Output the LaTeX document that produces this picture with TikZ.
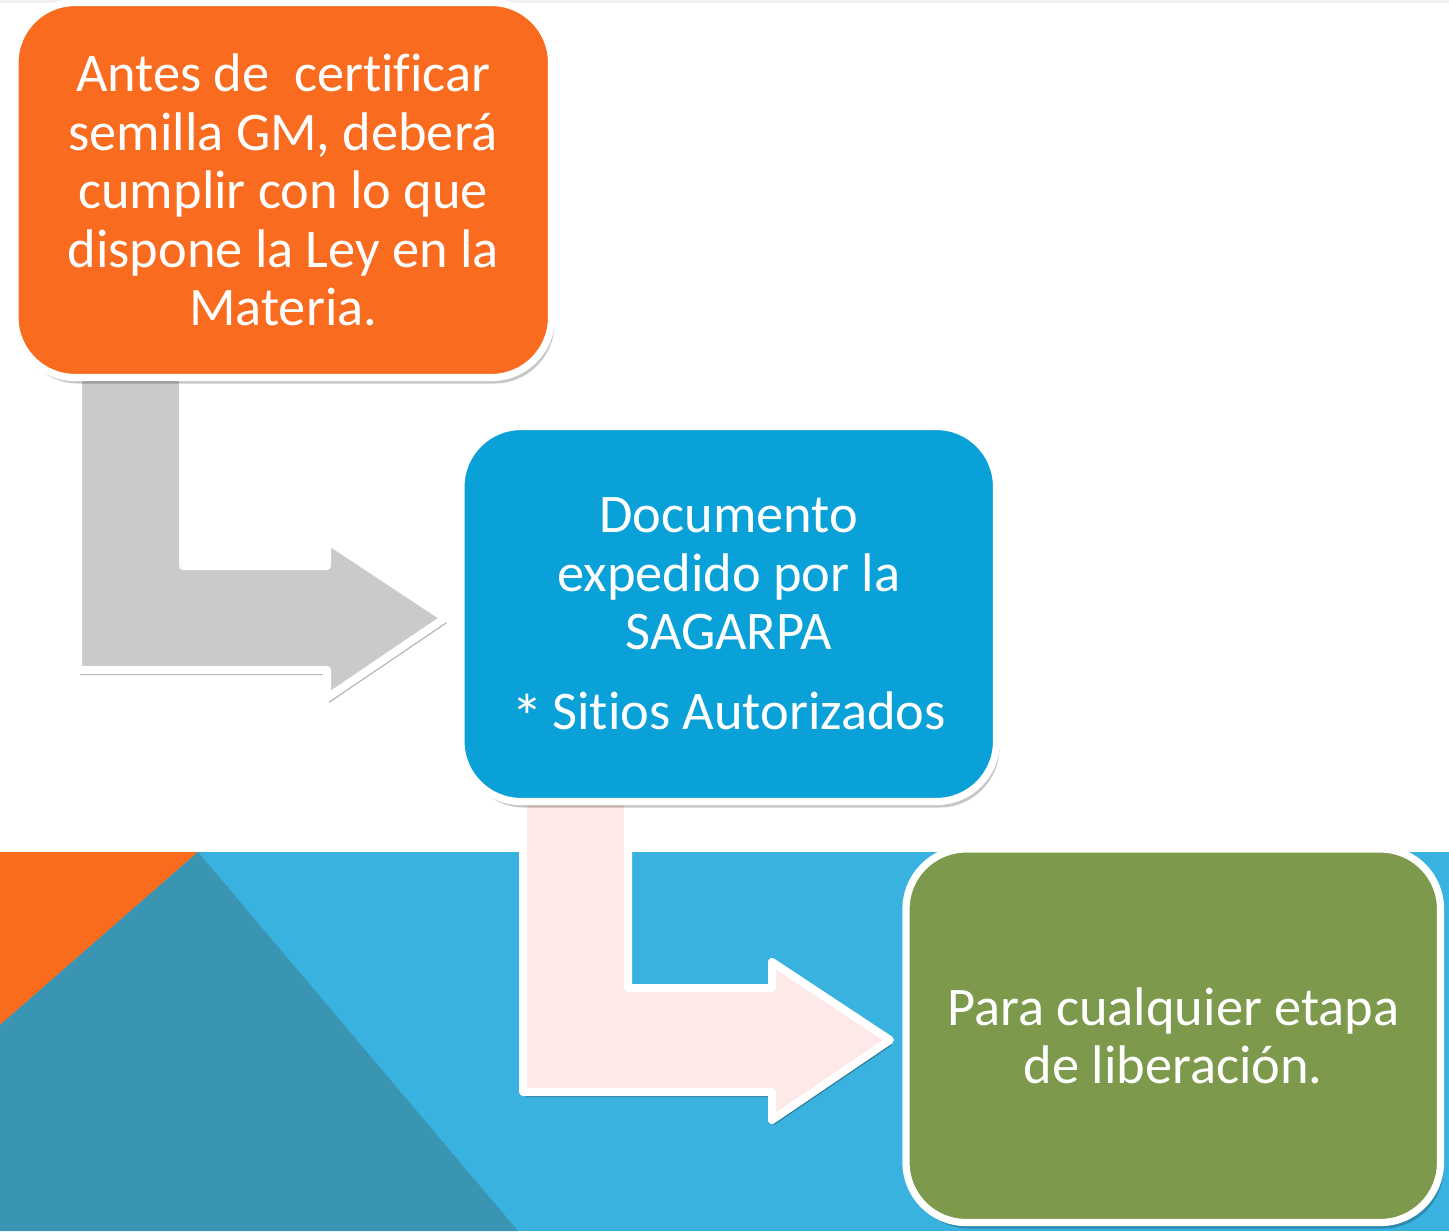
\documentclass[tikz,border=0pt]{standalone}
\usepackage{fontspec}
\setmainfont{Carlito}[Ligatures=NoCommon]
\usetikzlibrary{shadows}
\definecolor{boxorange}{RGB}{249,107,30}
\definecolor{boxblue}{RGB}{10,161,217}
\definecolor{boxgreen}{RGB}{125,153,75}
\definecolor{arrgray}{RGB}{202,202,202}
\definecolor{arrpink}{RGB}{253,233,231}
\definecolor{bandblue}{RGB}{58,178,223}
\definecolor{banddark}{RGB}{58,149,179}
\definecolor{bandorange}{RGB}{249,108,30}
\tikzset{
  stepbox/.style={draw=white, line width=3.6pt, rounded corners=30pt,
    inner sep=0pt, align=center, text=white,
    font=\fontsize{27.2}{29.2}\selectfont,
    drop shadow={shadow xshift=1.5pt, shadow yshift=-3pt, opacity=0.22, fill=black}},
  bentarrow/.style={draw=white, line width=4pt, line join=round,
    drop shadow={shadow xshift=1pt, shadow yshift=-2.5pt, opacity=0.3, fill=black}}
}
\begin{document}
\begin{tikzpicture}[x=0.5pt, y=-0.5pt]
\useasboundingbox (0,0) rectangle (1449,1231);
\fill[white] (0,0) rectangle (1449,1231);
\fill[gray!12] (0,0) rectangle (1449,3);
% bottom band
\fill[bandblue] (0,852) rectangle (1449,1231);
\fill[bandorange] (0,852) -- (198,852) -- (0,1025) -- cycle;
\fill[banddark] (0,1025) -- (198,852) -- (518,1231) -- (0,1231) -- cycle;
% bent arrows
\path[bentarrow, fill=arrgray] (78,372) -- (78,670) -- (327,670) -- (327,698) -- (445,618)
  -- (327,540) -- (327,566) -- (183,566) -- (183,372) -- cycle;
\path[bentarrow, fill=arrpink] (523,796) -- (523,1092) -- (772,1092) -- (772,1120) -- (890,1040)
  -- (772,962) -- (772,988) -- (628,988) -- (628,796) -- cycle;
% boxes
\node[stepbox, fill=boxorange, minimum width=268.25pt, minimum height=187.5pt]
  (antes) at (283.25,190) {Antes de\ \ certificar\\semilla GM, deberá\\cumplir con lo que\\dispone la Ley en la\\Materia.};
\node[stepbox, fill=boxblue, minimum width=267.75pt, minimum height=187.5pt]
  (doc) at (728.75,614) {Documento\\expedido por la\\SAGARPA\\[11pt]\raisebox{-5pt}[0pt][0pt]{\fontsize{32}{29.2}\selectfont*}\,Sitios Autorizados};
\node[stepbox, fill=boxgreen, minimum width=267.25pt, minimum height=186.75pt]
  (para) at (1173.25,1035.75) {Para cualquier etapa\\de liberación.};
\end{tikzpicture}
\end{document}
